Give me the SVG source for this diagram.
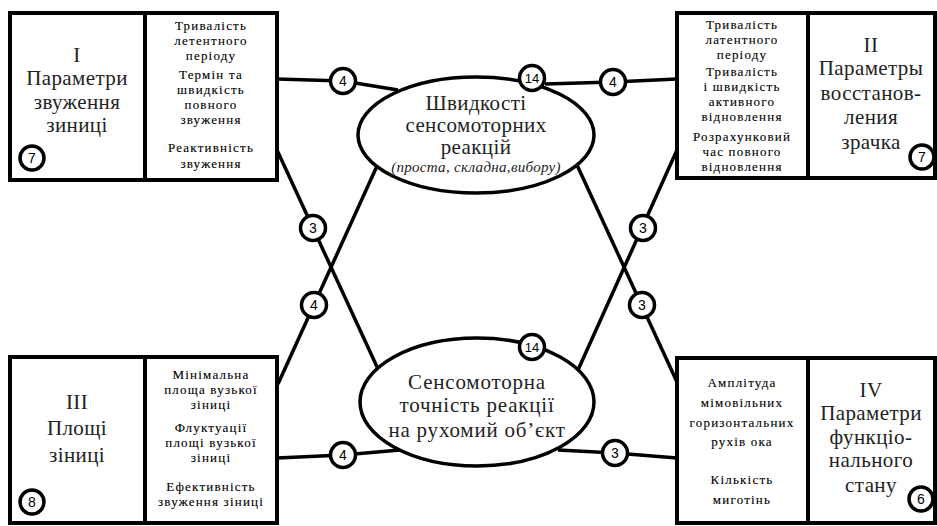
<svg xmlns="http://www.w3.org/2000/svg" width="937" height="526" viewBox="0 0 937 526">
<style>
.box{fill:#fff;stroke:#000;stroke-width:4}
.div{stroke:#000;stroke-width:4}
.big{font-family:"Liberation Serif",serif;font-size:21px;text-anchor:middle;fill:#222;letter-spacing:0.4px}
.sm{font-family:"Liberation Serif",serif;font-size:13px;text-anchor:middle;fill:#000;letter-spacing:1.2px;stroke:#000;stroke-width:0.12px}
.it{font-family:"Liberation Serif",serif;font-size:15px;font-style:italic;text-anchor:middle;fill:#222;letter-spacing:0.3px}
.ell{fill:#fff;stroke:#000;stroke-width:3.5}
.con{fill:none;stroke:#000;stroke-width:3.5;stroke-linejoin:round}
.nc{fill:#fff;stroke:#000;stroke-width:3.5}
.num{font-family:"Liberation Sans",sans-serif;font-size:14px;text-anchor:middle;fill:#000}
</style>
<rect width="937" height="526" fill="#fff"/>
<g id="connectors">
<polyline class="con" points="277,79 343,81 398,90"/>
<polyline class="con" points="677,79 613,82 545,84"/>
<polyline class="con" points="277,458 343,455 400,450"/>
<polyline class="con" points="558,450 615,453 677,458"/>
<line class="con" x1="277" y1="150" x2="378" y2="369"/>
<line class="con" x1="377" y1="166" x2="278" y2="384"/>
<line class="con" x1="577" y1="165" x2="677" y2="382"/>
<line class="con" x1="677" y1="150" x2="578" y2="370"/>
<g>
<circle class="nc" cx="343" cy="81" r="12.5"/><text class="num" x="343" y="86">4</text>
<circle class="nc" cx="613" cy="82" r="12.5"/><text class="num" x="613" y="87">4</text>
<circle class="nc" cx="313" cy="228" r="12.5"/><text class="num" x="313" y="233">3</text>
<circle class="nc" cx="314" cy="305" r="12.5"/><text class="num" x="314" y="310">4</text>
<circle class="nc" cx="643" cy="228" r="12.5"/><text class="num" x="643" y="233">3</text>
<circle class="nc" cx="642" cy="305" r="12.5"/><text class="num" x="642" y="310">3</text>
<circle class="nc" cx="343" cy="455" r="12.5"/><text class="num" x="343" y="460">4</text>
<circle class="nc" cx="615" cy="453" r="12.5"/><text class="num" x="615" y="458">3</text>
</g>
</g>
<g id="box1">
<rect class="box" x="10" y="13" width="267" height="167"/>
<line class="div" x1="145" y1="13" x2="145" y2="180"/>
<text class="big" x="77" y="62">I</text>
<text class="big" x="77" y="85">Параметри</text>
<text class="big" x="77" y="109">звуження</text>
<text class="big" x="77" y="132">зиниці</text>
<text class="sm" x="211" y="30">Тривалість</text>
<text class="sm" x="211" y="45">летентного</text>
<text class="sm" x="211" y="60">періоду</text>
<text class="sm" x="211" y="79">Термін та</text>
<text class="sm" x="211" y="94">швидкість</text>
<text class="sm" x="211" y="109">повного</text>
<text class="sm" x="211" y="124">звуження</text>
<text class="sm" x="211" y="152">Реактивність</text>
<text class="sm" x="211" y="168">звуження</text>
<circle class="nc" cx="32" cy="158" r="12"/><text class="num" x="32" y="163">7</text>
</g>
<g id="box2">
<rect class="box" x="677" y="13" width="258" height="165"/>
<line class="div" x1="808" y1="13" x2="808" y2="178"/>
<text class="big" x="871" y="52">II</text>
<text class="big" x="871" y="75">Параметры</text>
<text class="big" x="871" y="100">восстанов-</text>
<text class="big" x="871" y="124">ления</text>
<text class="big" x="871" y="149">зрачка</text>
<text class="sm" x="742" y="29">Тривалість</text>
<text class="sm" x="742" y="44">латентного</text>
<text class="sm" x="742" y="59">періоду</text>
<text class="sm" x="742" y="76">Тривалість</text>
<text class="sm" x="742" y="91">і швидкість</text>
<text class="sm" x="742" y="106">активного</text>
<text class="sm" x="742" y="121">відновлення</text>
<text class="sm" x="742" y="141">Розрахунковий</text>
<text class="sm" x="742" y="156">час повного</text>
<text class="sm" x="742" y="171">відновлення</text>
<circle class="nc" cx="922" cy="157" r="12"/><text class="num" x="922" y="162">7</text>
</g>
<g id="box3">
<rect class="box" x="10" y="357" width="267" height="166"/>
<line class="div" x1="145" y1="357" x2="145" y2="523"/>
<text class="big" x="77" y="409">III</text>
<text class="big" x="77" y="435">Площі</text>
<text class="big" x="77" y="462">зіниці</text>
<text class="sm" x="211" y="379">Мінімальна</text>
<text class="sm" x="211" y="394">площа вузької</text>
<text class="sm" x="211" y="409">зіниці</text>
<text class="sm" x="211" y="432">Флуктуації</text>
<text class="sm" x="211" y="447">площі вузької</text>
<text class="sm" x="211" y="462">зіниці</text>
<text class="sm" x="211" y="491">Ефективність</text>
<text class="sm" x="211" y="506">звуження зіниці</text>
<circle class="nc" cx="32" cy="502" r="12"/><text class="num" x="32" y="507">8</text>
</g>
<g id="box4">
<rect class="box" x="677" y="358" width="258" height="165"/>
<line class="div" x1="808" y1="358" x2="808" y2="523"/>
<text class="big" x="871" y="397">IV</text>
<text class="big" x="871" y="420">Параметри</text>
<text class="big" x="871" y="444">функціо-</text>
<text class="big" x="871" y="467">нального</text>
<text class="big" x="871" y="492">стану</text>
<text class="sm" x="742" y="387">Амплітуда</text>
<text class="sm" x="742" y="407">мімовільних</text>
<text class="sm" x="742" y="427">горизонтальних</text>
<text class="sm" x="742" y="446">рухів ока</text>
<text class="sm" x="742" y="484">Кількість</text>
<text class="sm" x="742" y="504">миготінь</text>
<circle class="nc" cx="921" cy="499" r="12"/><text class="num" x="921" y="504">6</text>
</g>
<g id="ellipse1">
<ellipse class="ell" cx="476" cy="135" rx="118" ry="58"/>
<text class="big" x="476" y="110">Швидкості</text>
<text class="big" x="476" y="132">сенсомоторних</text>
<text class="big" x="476" y="154">реакцій</text>
<text class="it" x="476" y="172">(проста, складна,вибору)</text>
<circle class="nc" cx="532" cy="78" r="12.5"/><text class="num" x="532" y="83" style="font-size:13px">14</text>
</g>
<g id="ellipse2">
<ellipse class="ell" cx="477" cy="402" rx="117" ry="64"/>
<text class="big" x="477" y="389" style="letter-spacing:0.8px">Сенсомоторна</text>
<text class="big" x="477" y="412" style="letter-spacing:0.8px">точність реакції</text>
<text class="big" x="477" y="437" style="letter-spacing:0.8px">на рухомий об’єкт</text>
<circle class="nc" cx="532" cy="347" r="12.5"/><text class="num" x="532" y="352" style="font-size:13px">14</text>
</g>
</svg>
